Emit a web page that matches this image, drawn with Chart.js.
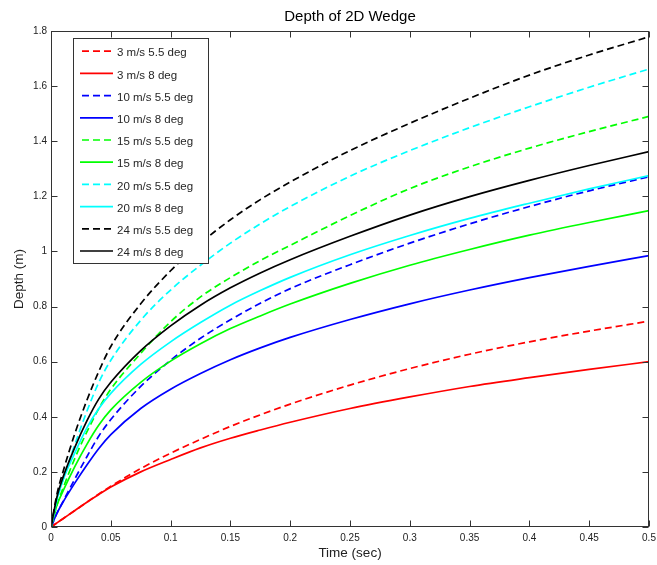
<!DOCTYPE html>
<html>
<head>
<meta charset="utf-8">
<title>Depth of 2D Wedge</title>
<script src="https://cdn.jsdelivr.net/npm/chart.js@4.4.1/dist/chart.umd.min.js"></script>
<style>
  html, body { margin: 0; padding: 0; background: #fff; }
  canvas { display: block; }
</style>
</head>
<body>
<canvas id="wedgeChart" width="657" height="565"></canvas>
<script>
// time samples (sec)
const tSec = [0, 0.005, 0.01, 0.02, 0.03, 0.04, 0.05, 0.075, 0.1, 0.125, 0.15, 0.175, 0.2, 0.25, 0.3, 0.35, 0.4, 0.45, 0.5];

// depth (m) for each speed / deadrise angle
const d3_55  = [0, 0.015, 0.03, 0.06, 0.09, 0.12, 0.148, 0.212, 0.268, 0.318, 0.365, 0.407, 0.446, 0.515, 0.575, 0.627, 0.672, 0.711, 0.747];
const d3_8   = [0, 0.015, 0.03, 0.06, 0.09, 0.118, 0.145, 0.2, 0.245, 0.287, 0.322, 0.352, 0.38, 0.43, 0.472, 0.51, 0.542, 0.572, 0.6];
const d10_55 = [0, 0.05, 0.092, 0.175, 0.255, 0.33, 0.39, 0.51, 0.605, 0.685, 0.752, 0.812, 0.865, 0.952, 1.03, 1.1, 1.163, 1.22, 1.271];
const d10_8  = [0, 0.05, 0.09, 0.16, 0.225, 0.285, 0.335, 0.43, 0.5, 0.557, 0.607, 0.65, 0.688, 0.753, 0.81, 0.86, 0.905, 0.946, 0.985];
const d15_55 = [0, 0.08, 0.14, 0.25, 0.345, 0.43, 0.5, 0.63, 0.745, 0.835, 0.905, 0.967, 1.022, 1.13, 1.228, 1.307, 1.375, 1.435, 1.49];
const d15_8  = [0, 0.08, 0.13, 0.22, 0.3, 0.37, 0.425, 0.525, 0.602, 0.665, 0.72, 0.766, 0.809, 0.884, 0.95, 1.007, 1.059, 1.105, 1.148];
const d20_55 = [0, 0.1, 0.17, 0.3, 0.42, 0.525, 0.605, 0.75, 0.86, 0.95, 1.03, 1.1, 1.163, 1.273, 1.366, 1.449, 1.525, 1.596, 1.662];
const d20_8  = [0, 0.1, 0.17, 0.27, 0.36, 0.43, 0.485, 0.59, 0.672, 0.742, 0.805, 0.858, 0.906, 0.988, 1.058, 1.12, 1.175, 1.227, 1.275];
const d24_55 = [0, 0.12, 0.2, 0.34, 0.46, 0.565, 0.655, 0.81, 0.93, 1.03, 1.115, 1.188, 1.252, 1.366, 1.465, 1.556, 1.64, 1.713, 1.779];
const d24_8  = [0, 0.11, 0.18, 0.29, 0.385, 0.465, 0.525, 0.64, 0.73, 0.805, 0.868, 0.922, 0.97, 1.055, 1.132, 1.199, 1.258, 1.312, 1.362];

const seriesLabels = ['3 m/s 5.5 deg', '3 m/s 8 deg', '10 m/s 5.5 deg', '10 m/s 8 deg', '15 m/s 5.5 deg',
                      '15 m/s 8 deg', '20 m/s 5.5 deg', '20 m/s 8 deg', '24 m/s 5.5 deg', '24 m/s 8 deg'];
const seriesData = [d3_55, d3_8, d10_55, d10_8, d15_55, d15_8, d20_55, d20_8, d24_55, d24_8];
const seriesColors = ['#ff0000', '#ff0000', '#0000ff', '#0000ff', '#00ff00', '#00ff00', '#00ffff', '#00ffff', '#000000', '#000000'];
const seriesDashed = [true, false, true, false, true, false, true, false, true, false];

const xTicks = [0, 0.05, 0.1, 0.15, 0.2, 0.25, 0.3, 0.35, 0.4, 0.45, 0.5];
const yTicks = [0, 0.2, 0.4, 0.6, 0.8, 1, 1.2, 1.4, 1.6, 1.8];

const FONT = '"Liberation Sans", Arial, Helvetica, sans-serif';
const DASH = [7, 4];
const n = seriesLabels.length;

const datasets = seriesLabels.map((label, i) => ({
    label: label,
    data: tSec.map((t, k) => ({ x: t, y: seriesData[i][k] })),
    borderColor: seriesColors[i],
    borderWidth: 1.7,
    borderDash: seriesDashed[i] ? DASH : [],
    pointRadius: 0,
    fill: false,
    cubicInterpolationMode: 'monotone',
    order: n - i   // later series drawn on top
}));

function fmt(v) {
    return String(parseFloat(v.toFixed(2)));
}

// frame, inward ticks, titles and legend box
const axesDecor = {
    id: 'axesDecor',
    afterDraw(chart) {
        const ctx = chart.ctx;
        const a = chart.chartArea;
        const xs = chart.scales.x;
        const ys = chart.scales.y;
        const L = Math.round(a.left) + 0.5, R = Math.round(a.right) - 0.5;
        const T = Math.round(a.top) + 0.5, B = Math.round(a.bottom) - 0.5;
        const tick = 6;

        ctx.save();
        ctx.strokeStyle = '#333';
        ctx.lineWidth = 1;
        ctx.setLineDash([]);
        ctx.strokeRect(L, T, R - L, B - T);

        ctx.beginPath();
        xTicks.forEach(v => {
            const px = Math.round(xs.getPixelForValue(v)) + 0.5;
            ctx.moveTo(px, B); ctx.lineTo(px, B - tick);
            ctx.moveTo(px, T); ctx.lineTo(px, T + tick);
        });
        yTicks.forEach(v => {
            const py = Math.round(ys.getPixelForValue(v)) + 0.5;
            ctx.moveTo(L, py); ctx.lineTo(L + tick, py);
            ctx.moveTo(R, py); ctx.lineTo(R - tick, py);
        });
        ctx.stroke();

        // title and axis titles
        ctx.fillStyle = '#000';
        ctx.textAlign = 'center';
        ctx.textBaseline = 'middle';
        ctx.font = '15px ' + FONT;
        ctx.fillText('Depth of 2D Wedge', (a.left + a.right) / 2, 17);

        ctx.fillStyle = '#222';
        ctx.font = '13.5px ' + FONT;
        ctx.fillText('Time (sec)', (a.left + a.right) / 2, 553);
        ctx.save();
        ctx.translate(19, (a.top + a.bottom) / 2);
        ctx.rotate(-Math.PI / 2);
        ctx.fillText('Depth (m)', 0, 0);
        ctx.restore();

        // legend
        const lx = 73.5, ly = 38.5, lw = 135, lh = 225;
        ctx.fillStyle = '#fff';
        ctx.fillRect(lx, ly, lw, lh);
        ctx.strokeStyle = '#333';
        ctx.strokeRect(lx, ly, lw, lh);

        ctx.font = '11.5px ' + FONT;
        ctx.textAlign = 'left';
        for (let i = 0; i < n; i++) {
            const y = 52.7 + i * 22.2;
            ctx.beginPath();
            ctx.strokeStyle = seriesColors[i];
            ctx.lineWidth = 1.7;
            ctx.setLineDash(seriesDashed[i] ? DASH : []);
            ctx.lineDashOffset = seriesDashed[i] ? -2 : 0;
            ctx.moveTo(80, y - 1.5);
            ctx.lineTo(113, y - 1.5);
            ctx.stroke();
            ctx.setLineDash([]);
            ctx.fillStyle = '#262626';
            ctx.fillText(seriesLabels[i], 117, y + 0.5);
        }
        ctx.restore();
    }
};

new Chart(document.getElementById('wedgeChart'), {
    type: 'line',
    data: { datasets: datasets },
    options: {
        responsive: false,
        animation: false,
        layout: { padding: { top: 31, right: 8, left: 0, bottom: 0 } },
        plugins: {
            legend: { display: false },
            title: { display: false },
            tooltip: { enabled: false }
        },
        scales: {
            x: {
                type: 'linear',
                min: 0,
                max: 0.5,
                grid: { display: false, drawTicks: false },
                border: { display: false },
                afterBuildTicks: s => { s.ticks = xTicks.map(v => ({ value: v })); },
                afterFit: s => { s.height = 38; s.paddingLeft = 0; s.paddingRight = 0; },
                ticks: {
                    padding: 5,
                    maxRotation: 0,
                    autoSkip: false,
                    color: '#222',
                    font: { family: FONT, size: 10 },
                    callback: v => fmt(v)
                }
            },
            y: {
                type: 'linear',
                min: 0,
                max: 1.8,
                grid: { display: false, drawTicks: false },
                border: { display: false },
                afterBuildTicks: s => { s.ticks = yTicks.map(v => ({ value: v })); },
                afterFit: s => { s.width = 51; s.paddingTop = 0; s.paddingBottom = 0; },
                ticks: {
                    padding: 4,
                    autoSkip: false,
                    color: '#222',
                    font: { family: FONT, size: 10 },
                    callback: v => fmt(v)
                }
            }
        }
    },
    plugins: [axesDecor]
});
</script>
</body>
</html>
